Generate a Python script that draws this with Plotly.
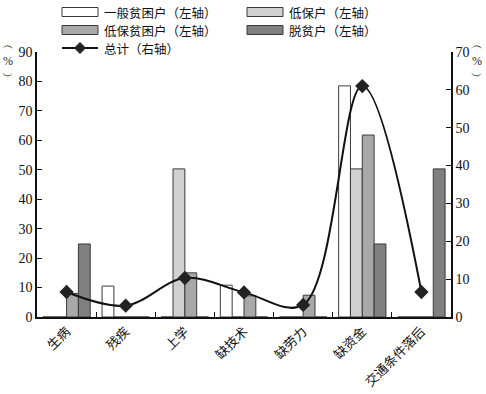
import plotly.graph_objects as go

categories = ["生病", "残疾", "上学", "缺技术", "缺劳力", "缺资金", "交通条件落后"]
series_names = ["一般贫困户（左轴）", "低保户（左轴）", "低保贫困户（左轴）", "脱贫户（左轴）"]
general_poor = [0, 10.5, 0, 10.8, 0, 78.5, 0]
dibao = [0, 0, 50.3, 0, 0, 50.3, 0]
dibao_poor = [8.0, 0, 15.0, 7.2, 7.4, 61.8, 0]
lifted = [24.8, 0, 0, 0, 0, 24.8, 50.3]
total_name = "总计（右轴）"
total = [6.6, 3.0, 10.3, 6.5, 3.2, 61.0, 6.6]
left_ticks = list(range(0, 91, 10))
right_ticks = list(range(0, 71, 10))

colors = ["#ffffff", "#d0d0d0", "#a8a8a8", "#808080"]
outline = "#3a3a3a"
cjk = "Noto Sans CJK SC"
serif = "Liberation Serif"

W, H = 486, 394
L, R, T, B = 37, 35, 52, 77
PW, PH = W - L - R, H - T - B

def px(x):
    return (x - L) / PW

def py(y):
    return (H - B - y) / PH

fig = go.Figure()
for name, vals, col in zip(series_names, [general_poor, dibao, dibao_poor, lifted], colors):
    fig.add_trace(go.Bar(x=categories, y=vals, name=name,
                         marker=dict(color=col, line=dict(color=outline, width=1)),
                         showlegend=False, yaxis="y"))

fig.add_trace(go.Scatter(x=categories, y=total, name=total_name, yaxis="y2",
                         mode="lines+markers",
                         line=dict(color="#111111", width=2, shape="spline", smoothing=1.0),
                         marker=dict(symbol="diamond", size=11, color="#222222"),
                         showlegend=False))

shapes = []
annotations = []
legend_font = dict(family=cjk, size=12.5, color="#111")
# manual legend
legend_pos = [(62, 12), (247, 12), (62, 30), (247, 30)]
for (lx, ly), name, col in zip(legend_pos, series_names, colors):
    shapes.append(dict(type="rect", xref="paper", yref="paper",
                       x0=px(lx), x1=px(lx + 36), y0=py(ly + 4.5), y1=py(ly - 4.5),
                       fillcolor=col, line=dict(color=outline, width=1)))
    annotations.append(dict(xref="paper", yref="paper", x=px(lx + 41), y=py(ly),
                            text=name, showarrow=False, xanchor="left", yanchor="middle",
                            borderpad=0, font=legend_font))
ly = 48
shapes.append(dict(type="line", xref="paper", yref="paper",
                   x0=px(62), x1=px(98), y0=py(ly), y1=py(ly),
                   line=dict(color="#111", width=2)))
cx, r = 80, 5.5
shapes.append(dict(type="path", xref="paper", yref="paper",
                   path=f"M {px(cx-r)},{py(ly)} L {px(cx)},{py(ly-r)} L {px(cx+r)},{py(ly)} L {px(cx)},{py(ly+r)} Z",
                   fillcolor="#222", line=dict(color="#222", width=1)))
annotations.append(dict(xref="paper", yref="paper", x=px(103), y=py(ly),
                        text=total_name, showarrow=False, xanchor="left", yanchor="middle",
                        borderpad=0, font=legend_font))
# unit labels
for ux in (8, 477):
    annotations.append(dict(xref="paper", yref="paper", x=px(ux), y=py(60),
                            text="︵<br>%<br>︶", showarrow=False, xanchor="center", yanchor="middle",
                            font=dict(family=serif, size=12, color="#222")))

fig.update_layout(
    width=W, height=H,
    margin=dict(l=L, r=R, t=T, b=B, pad=0, autoexpand=False),
    paper_bgcolor="white", plot_bgcolor="white",
    barmode="group", bargap=0.2, bargroupgap=0,
    showlegend=False,
    shapes=shapes, annotations=annotations,
    xaxis=dict(type="category", showline=True, linecolor="#111", linewidth=1.5,
               ticks="inside", tickson="boundaries", ticklen=5, tickcolor="#111",
               tickangle=-45, tickfont=dict(family=cjk, size=13, color="#111"),
               showgrid=False, zeroline=False, automargin=False),
    yaxis=dict(range=[0, 90], tickvals=left_ticks, showline=True, linecolor="#111", linewidth=1.5,
               ticks="inside", ticklen=5, tickcolor="#111",
               tickfont=dict(family=serif, size=14, color="#111"),
               showgrid=False, zeroline=False, automargin=False),
    yaxis2=dict(range=[0, 70], tickvals=right_ticks, overlaying="y", side="right",
                showline=True, linecolor="#111", linewidth=1.5,
                ticks="inside", ticklen=5, tickcolor="#111",
                tickfont=dict(family=serif, size=14, color="#111"),
                showgrid=False, zeroline=False, automargin=False),
)

fig.write_html("out.html", config={"displayModeBar": False},
               post_script="document.body.style.margin='0';document.body.style.padding='0';")
